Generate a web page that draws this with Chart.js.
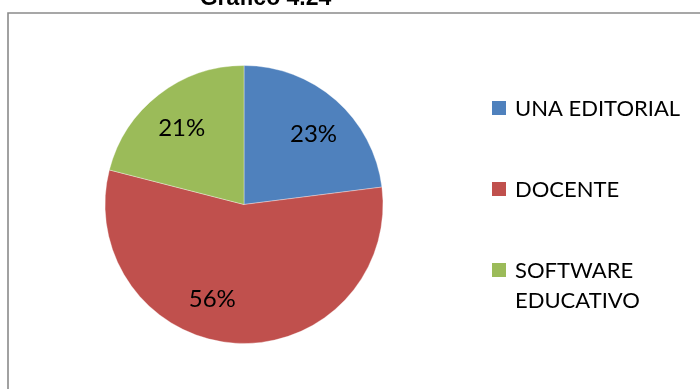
<!DOCTYPE html>
<html>
<head>
<meta charset="utf-8">
<script src="https://cdn.jsdelivr.net/npm/chart.js@4/dist/chart.umd.min.js"></script>
<style>
  html, body { margin: 0; padding: 0; background: #ffffff; }
  #wrap { width: 700px; height: 389px; position: relative; }
</style>
</head>
<body>
<div id="wrap"><canvas id="chart" width="700" height="389"></canvas></div>
<script>
// Source data: share of responses by option
const chartTitle = 'Gráfico 4.24';
const categories = ['UNA EDITORIAL', 'DOCENTE', 'SOFTWARE EDUCATIVO'];
const legendLines = [['UNA EDITORIAL'], ['DOCENTE'], ['SOFTWARE', 'EDUCATIVO']];
const percentValues = [23, 56, 21];
const sliceColors = ['#4F81BD', '#C0504D', '#9BBB59'];

// Outer frame plus the title sitting on its top edge
const framePlugin = {
  id: 'frame',
  beforeDraw(chart) {
    const ctx = chart.ctx;
    ctx.save();
    ctx.fillStyle = '#ffffff';
    ctx.fillRect(0, 0, chart.width, chart.height);
    ctx.strokeStyle = '#8a8a8a';
    ctx.lineWidth = 1.6;
    ctx.beginPath();
    ctx.moveTo(chart.width + 2, 13);
    ctx.lineTo(8, 13);
    ctx.lineTo(8, chart.height + 2);
    ctx.stroke();
    ctx.fillStyle = '#000000';
    ctx.font = 'bold 23px "Liberation Sans", Arial, sans-serif';
    ctx.textAlign = 'center';
    ctx.textBaseline = 'alphabetic';
    ctx.fillText(chartTitle, 265.5, 5);
    ctx.restore();
  }
};

// Percentage labels inside each slice, placed along the slice's angle
const sliceLabelPlugin = {
  id: 'sliceLabels',
  afterDatasetsDraw(chart, args, opts) {
    const ctx = chart.ctx;
    const meta = chart.getDatasetMeta(0);
    ctx.save();
    ctx.fillStyle = '#000000';
    ctx.font = '24px Lato, "Open Sans", sans-serif';
    ctx.textAlign = 'center';
    ctx.textBaseline = 'middle';
    meta.data.forEach((arc, i) => {
      const p = arc.getProps(['x', 'y', 'startAngle', 'endAngle', 'outerRadius'], true);
      const shift = (opts.angleShift[i] || 0) * Math.PI / 180;
      const mid = (p.startAngle + p.endAngle) / 2 + shift;
      const r = p.outerRadius * opts.radiusFactor;
      const lx = p.x + Math.cos(mid) * r;
      const ly = p.y + Math.sin(mid) * r;
      ctx.fillText(chart.data.datasets[0].data[i] + '%', lx, ly + 1);
    });
    ctx.restore();
  }
};

// Legend on the right with square swatches and wrapped labels
const sideLegendPlugin = {
  id: 'sideLegend',
  afterDraw(chart, args, opts) {
    const ctx = chart.ctx;
    const ds = chart.data.datasets[0];
    ctx.save();
    ctx.font = '22px Lato, "Open Sans", sans-serif';
    ctx.textAlign = 'left';
    ctx.textBaseline = 'middle';
    legendLines.forEach((lines, i) => {
      const cy = opts.top + i * opts.step;
      ctx.fillStyle = ds.backgroundColor[i];
      ctx.fillRect(opts.left, cy - opts.box / 2, opts.box, opts.box);
      ctx.fillStyle = '#000000';
      lines.forEach((line, j) => {
        ctx.fillText(line, opts.left + opts.box + 9, cy + j * opts.lineHeight + 1);
      });
    });
    ctx.restore();
  }
};

new Chart(document.getElementById('chart'), {
  type: 'pie',
  data: {
    labels: categories,
    datasets: [{
      data: percentValues,
      backgroundColor: sliceColors,
      borderColor: 'rgba(255,255,255,0.35)',
      borderWidth: 1
    }]
  },
  options: {
    responsive: false,
    animation: false,
    layout: { padding: { left: 104.5, right: 316.5, top: 65, bottom: 45 } },
    plugins: {
      legend: { display: false },
      tooltip: { enabled: false },
      title: { display: false },
      sliceLabels: { radiusFactor: 0.715, angleShift: [3, 15, -1] },
      sideLegend: { left: 492, top: 108, step: 81, box: 14, lineHeight: 30 }
    }
  },
  plugins: [framePlugin, sliceLabelPlugin, sideLegendPlugin]
});
</script>
</body>
</html>
